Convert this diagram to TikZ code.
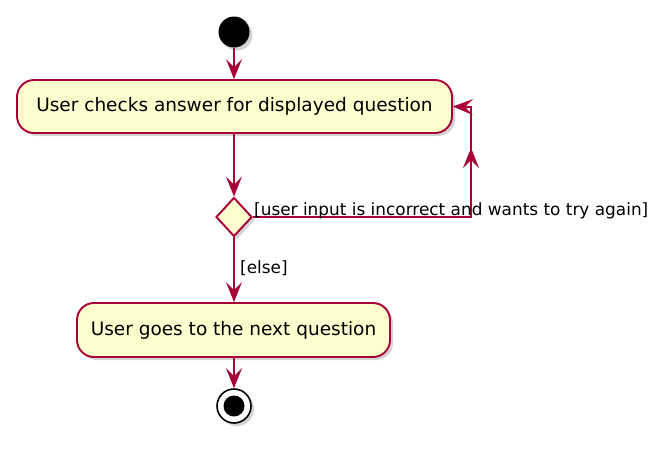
\documentclass[tikz,border=0pt]{standalone}
\usepackage{fontspec}
\setmainfont{DejaVu Sans}
\usetikzlibrary{shapes.geometric,arrows.meta,shadows}
\definecolor{umlred}{HTML}{A80036}
\definecolor{umlfill}{HTML}{FEFECE}
\tikzset{
  flow/.style={draw=umlred, line width=1.9pt, -{Stealth[length=20pt,width=16pt,inset=8pt]}},
  act/.style={draw=umlred, fill=umlfill, line width=1.9pt, rounded corners=17pt, inner sep=0pt,
    font=\fontsize{18.5}{22}\selectfont, drop shadow={shadow xshift=3pt, shadow yshift=-3pt, opacity=0.35}},
  dec/.style={diamond, draw=umlred, fill=umlfill, line width=1.9pt, inner sep=0pt,
    minimum width=36pt, minimum height=39pt, drop shadow={shadow xshift=3pt, shadow yshift=-3pt, opacity=0.35}},
  startc/.style={circle, fill=black, minimum size=31pt, inner sep=0pt,
    drop shadow={shadow xshift=3pt, shadow yshift=-3pt, opacity=0.35}},
  endc/.style={circle, draw=black, fill=white, line width=1.6pt, minimum size=34pt, inner sep=0pt,
    drop shadow={shadow xshift=3pt, shadow yshift=-3pt, opacity=0.35}},
  endin/.style={circle, fill=black, minimum size=21pt, inner sep=0pt},
  lbl/.style={font=\fontsize{16.9}{20}\selectfont, inner sep=0pt, text=black}
}
\begin{document}
\begin{tikzpicture}[x=1pt,y=-1pt]
\useasboundingbox (0,0) rectangle (668,450);
\node[startc] (s) at (234,32) {};
\node[act, minimum width=435pt, minimum height=53pt] (a1) at (234.5,106.5) {User checks answer for displayed question};
\node[dec] (d) at (234,217) {};
\node[act, minimum width=313pt, minimum height=54pt] (a2) at (233.5,330) {User goes to the next question};
\node[endc] (e) at (234,406) {};
\node[endin] (ei) at (e.center) {};
\coordinate (c1) at (471,217);
\coordinate (c2) at (471,107);
\coordinate (cm) at (471,148);
\draw[flow] (s) -- (s |- a1.north);
\draw[flow] (d |- a1.south) -- (d);
\draw[flow] (d) -- (d |- a2.north);
\draw[flow] (d |- a2.south) -- (e);
\draw[flow] (d.east) -- (c1) -- (c2) -- (a1.east);
\draw[flow] (c1) -- (cm);
\node[lbl, anchor=base west] (l1) at (254,215) {[user input is incorrect and wants to try again]};
\node[lbl, anchor=base west] (l2) at (240,273) {[else]};
\end{tikzpicture}
\end{document}
